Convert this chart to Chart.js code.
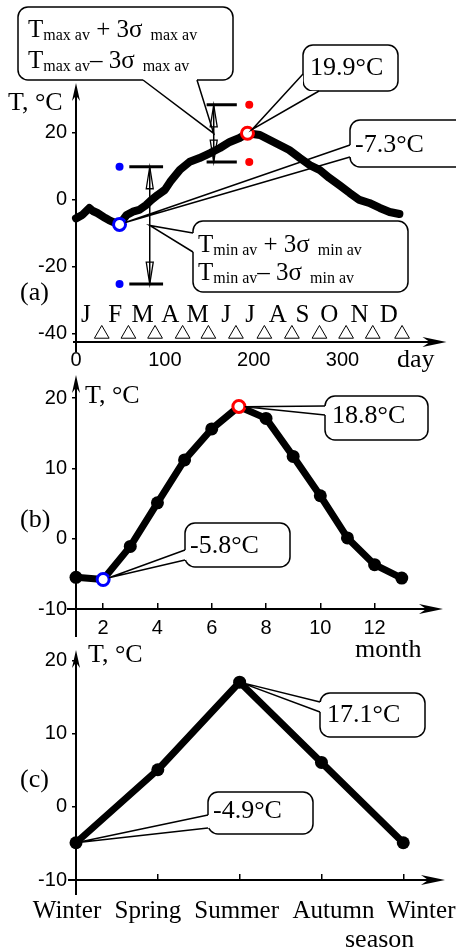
<!DOCTYPE html>
<html>
<head>
<meta charset="utf-8">
<title>Temperature by day, month and season</title>
<script src="https://cdn.jsdelivr.net/npm/chart.js@4.4.1/dist/chart.umd.min.js"></script>
<style>
  html, body { margin: 0; padding: 0; background: #fff; }
  #wrap { position: relative; width: 456px; height: 952px; overflow: hidden; }
  #wrap canvas { position: absolute; left: 0; }
</style>
</head>
<body>
<div id="wrap">
  <canvas id="chartA" width="456" height="372" style="top:0"></canvas>
  <canvas id="chartB" width="456" height="290" style="top:368px"></canvas>
  <canvas id="chartC" width="456" height="312" style="top:640px"></canvas>
</div>
<script>
// ---------- data ----------

// (a) daily temperature over one year
const days      = [0, 7, 15, 19, 24, 33, 37, 42, 49, 57, 64, 71, 79, 85, 92, 100, 106, 117, 128, 139,
                   151, 162, 173, 184, 193, 207, 218, 229, 240, 252, 263, 274, 285, 297, 308, 319, 330, 342, 353, 364];
const dailyTemp = [-5.5, -4.5, -2.4, -3.3, -3.9, -5.4, -6.0, -6.6, -7.3, -4.5, -3.5, -3.0, -1.5, 0.0, 1.5, 3.0, 5.4, 9.0, 11.4, 12.5,
                   14.0, 15.5, 17.3, 18.5, 19.9, 19.4, 17.9, 16.4, 14.9, 12.5, 10.4, 9.0, 6.6, 4.3, 2.1, 0.0, -0.9, -2.4, -3.6, -4.2];
const monthEndDays    = [29, 59, 89, 120, 149, 180, 212, 243, 274, 304, 334, 367];
const monthLetters    = ['J', 'F', 'M', 'A', 'M', 'J', 'J', 'A', 'S', 'O', 'N', 'D'];
const monthLetterDays = [11, 44, 75, 106, 137, 169, 196, 227, 255, 285, 319, 352];
const dayTicks   = [0, 100, 200, 300];
const tempTicksA = [-40, -20, 0, 20];
const markerLevel = -40;

// Tmin av +/- 3 sigma and Tmax av +/- 3 sigma  (upper, lower)
const minBand = [9.9, -25.1];
const maxBand = [28.4, 11.3];
const minBandDotDay = 49,  minBandBar = [60, 98],   minBandArrowDay = 83;
const maxBandDotDay = 195, maxBandBar = [147, 181], maxBandArrowDay = 155;

// (b) monthly averages
const months      = [1, 2, 3, 4, 5, 6, 7, 8, 9, 10, 11, 12, 13];
const monthlyTemp = [-5.5, -5.8, -1.1, 5.1, 11.2, 15.6, 18.8, 17.1, 11.7, 6.1, 0.1, -3.7, -5.6];
const monthTicks  = [2, 4, 6, 8, 10, 12];
const tempTicksB  = [-10, 0, 10, 20];

// (c) seasonal averages
const seasons     = ['Winter', 'Spring', 'Summer', 'Autumn', 'Winter'];
const seasonTemp  = [-4.9, 5.1, 17.1, 6.1, -4.9];
const tempTicksC  = [-10, 0, 10, 20];

// ---------- helpers ----------
const serif = '"Liberation Serif", "Times New Roman", serif';
const sans = '"Liberation Sans", Arial, sans-serif';
const tickFont = { family: sans, size: 20 };
const seasonLabelShift = [-9, -10, -3, 12, 18];   // season names sit a little spread out

function fixWidth(w) { return s => { s.width = w; s.paddingTop = 0; s.paddingBottom = 0; }; }
function fixHeight(h) { return s => { s.height = h; s.paddingLeft = 0; s.paddingRight = 0; }; }
function useTicks(list) { return s => { s.ticks = list.map(v => ({ value: v })); }; }
const yGrid = { display: true, drawOnChartArea: false, drawTicks: true, tickLength: 4, color: '#000', lineWidth: 1.5 };
const label = v => `${v.toFixed(1)}°C`;

function head(ctx, x, y, ang, len, half, open) {
  ctx.save();
  ctx.translate(x, y); ctx.rotate(ang);
  ctx.beginPath();
  if (open) {
    ctx.moveTo(-len, -half); ctx.lineTo(0, 0); ctx.lineTo(-len, half); ctx.closePath();
    ctx.lineWidth = 1.3; ctx.stroke();
  } else {
    ctx.moveTo(0, 0); ctx.lineTo(-len, -half); ctx.lineTo(-len * 0.7, 0); ctx.lineTo(-len, half); ctx.closePath();
    ctx.fill();
  }
  ctx.restore();
}

// axis lines with arrows (y up, x right)
function axes(ctx, a, below, left) {
  ctx.save();
  ctx.strokeStyle = '#000'; ctx.fillStyle = '#000'; ctx.lineWidth = 2;
  ctx.beginPath(); ctx.moveTo(a.left, a.bottom + below); ctx.lineTo(a.left, a.top + 6); ctx.stroke();
  head(ctx, a.left, a.top, -Math.PI / 2, 18, 4);
  ctx.beginPath(); ctx.moveTo(a.left - left, a.bottom); ctx.lineTo(a.right - 6, a.bottom); ctx.stroke();
  head(ctx, a.right, a.bottom, 0, 24, 5);
  ctx.restore();
}

function text(ctx, str, x, y, size, align) {
  ctx.font = size + 'px ' + serif;
  ctx.textAlign = align || 'left';
  ctx.textBaseline = 'alphabetic';
  ctx.fillStyle = '#000';
  ctx.fillText(str, x, y);
}

// text with subscripts: parts = [string, size, dy]
function runs(ctx, x, y, parts) {
  ctx.textAlign = 'left'; ctx.textBaseline = 'alphabetic'; ctx.fillStyle = '#000';
  for (const [s, size, dy] of parts) {
    ctx.font = size + 'px ' + serif;
    ctx.fillText(s, x, y + dy);
    x += ctx.measureText(s).width;
  }
}

// rounded box with a two-line pointer to tip; gap keeps the tip off a ring marker
function callout(ctx, box, tip, p1, p2, gap, corner) {
  const mx = (p1[0] + p2[0]) / 2 - tip.x, my = (p1[1] + p2[1]) / 2 - tip.y;
  const d = Math.hypot(mx, my) || 1;
  const tx = tip.x + mx / d * gap, ty = tip.y + my / d * gap;
  ctx.save();
  ctx.lineWidth = 1.5; ctx.strokeStyle = '#000'; ctx.fillStyle = '#fff';
  ctx.beginPath(); ctx.roundRect(box[0], box[1], box[2], box[3], 10); ctx.fill(); ctx.stroke();
  if (corner) {
    ctx.beginPath(); ctx.moveTo(p1[0], p1[1]); ctx.lineTo(tx, ty); ctx.lineTo(p2[0], p2[1]);
    ctx.lineTo(corner[0], corner[1]); ctx.closePath(); ctx.fill();
  } else {
    ctx.strokeStyle = '#fff'; ctx.lineWidth = 3.5;
    ctx.beginPath(); ctx.moveTo(p1[0], p1[1]); ctx.lineTo(p2[0], p2[1]); ctx.stroke();
  }
  ctx.strokeStyle = '#000'; ctx.lineWidth = 1.5;
  ctx.beginPath(); ctx.moveTo(p1[0], p1[1]); ctx.lineTo(tx, ty); ctx.lineTo(p2[0], p2[1]); ctx.stroke();
  ctx.restore();
}

function pt(chart, xv, yv) {
  return { x: chart.scales.x.getPixelForValue(xv), y: chart.scales.y.getPixelForValue(yv) };
}

function hbar(x0, x1, yv) {
  return { data: [{ x: x0, y: yv }, { x: x1, y: yv }], showLine: true, borderColor: '#000', borderWidth: 3, pointRadius: 0, order: 1 };
}

// ---------- (a) daily ----------
const iMinA = dailyTemp.indexOf(Math.min(...dailyTemp));
const iMaxA = dailyTemp.indexOf(Math.max(...dailyTemp));

const decorA = {
  id: 'decorA',
  beforeDatasetsDraw(chart) {
    const { ctx, chartArea } = chart;
    axes(ctx, chartArea, 10, 3);
    text(ctx, 'T, °C', 8, 110, 26);
    text(ctx, '(a)', 20, 300, 26);
    text(ctx, 'day', 397, 367, 26);
    monthLetters.forEach((m, i) => {
      const p = pt(chart, monthLetterDays[i], markerLevel);
      text(ctx, m, p.x, p.y - 12, 25, 'center');
    });
  },
  afterDatasetsDraw(chart) {
    const ctx = chart.ctx;
    ctx.save();
    ctx.strokeStyle = '#000'; ctx.fillStyle = '#000'; ctx.lineWidth = 1.5;
    [[minBandArrowDay, minBand], [maxBandArrowDay, maxBand]].forEach(([d, b]) => {
      const top = pt(chart, d, b[0]), bot = pt(chart, d, b[1]);
      ctx.beginPath(); ctx.moveTo(top.x, top.y); ctx.lineTo(bot.x, bot.y); ctx.stroke();
      head(ctx, top.x, top.y, -Math.PI / 2, 22, 3.5, true);
      head(ctx, bot.x, bot.y, Math.PI / 2, 22, 3.5, true);
    });
    ctx.restore();

    const tMax = pt(chart, maxBandArrowDay, (maxBand[0] + maxBand[1]) / 2);
    callout(ctx, [18, 7, 215, 73], tMax, [143, 80], [197, 80], 0);
    runs(ctx, 28, 37, [['T', 25, 0], ['max av', 16, 3], [' + 3σ', 25, 0], ['  max av', 16, 3]]);
    runs(ctx, 28, 68, [['T', 25, 0], ['max av', 16, 3], ['– 3σ', 25, 0], ['  max av', 16, 3]]);

    const tMin = pt(chart, minBandArrowDay, (minBand[0] + minBand[1]) / 2);
    callout(ctx, [193, 221, 215, 71], tMin, [193, 233], [193, 252], 0);
    runs(ctx, 198, 252, [['T', 25, 0], ['min av', 16, 3], [' + 3σ', 25, 0], ['  min av', 16, 3]]);
    runs(ctx, 198, 280, [['T', 25, 0], ['min av', 16, 3], ['– 3σ', 25, 0], ['  min av', 16, 3]]);

    callout(ctx, [303, 45, 95, 46], pt(chart, days[iMaxA], dailyTemp[iMaxA]), [303, 74], [319, 91], 6, [303, 91]);
    text(ctx, label(dailyTemp[iMaxA]), 310, 75, 26);

    callout(ctx, [350, 120, 130, 47], pt(chart, days[iMinA], dailyTemp[iMinA]), [350, 145], [350, 157], 6);
    text(ctx, label(dailyTemp[iMinA]), 355, 152, 26);
  }
};

new Chart(document.getElementById('chartA'), {
  type: 'scatter',
  data: {
    datasets: [
      { // extreme days (ring markers)
        data: [{ x: days[iMinA], y: dailyTemp[iMinA] }, { x: days[iMaxA], y: dailyTemp[iMaxA] }],
        pointRadius: 6, pointBorderWidth: 3, pointBackgroundColor: '#fff',
        pointBorderColor: ['#0000ff', '#ff0000'], order: 0
      },
      { data: [{ x: minBandDotDay, y: minBand[0] }, { x: minBandDotDay, y: minBand[1] }],
        pointRadius: 4, pointBorderWidth: 0, pointBackgroundColor: '#0000ff', order: 1 },
      { data: [{ x: maxBandDotDay, y: maxBand[0] }, { x: maxBandDotDay, y: maxBand[1] }],
        pointRadius: 4, pointBorderWidth: 0, pointBackgroundColor: '#ff0000', order: 1 },
      hbar(minBandBar[0], minBandBar[1], minBand[0]),
      hbar(minBandBar[0], minBandBar[1], minBand[1]),
      hbar(maxBandBar[0], maxBandBar[1], maxBand[0]),
      hbar(maxBandBar[0], maxBandBar[1], maxBand[1]),
      { // month ends
        data: monthEndDays.map(d => ({ x: d, y: markerLevel })),
        pointStyle: 'triangle', pointRadius: 8.5, pointBorderWidth: 1,
        pointBackgroundColor: '#fff', pointBorderColor: '#000', order: 2
      },
      { // daily curve
        data: days.map((d, i) => ({ x: d, y: dailyTemp[i] })),
        showLine: true, borderColor: '#000', borderWidth: 8, pointRadius: 0,
        borderJoinStyle: 'round', borderCapStyle: 'round', order: 3, clip: false
      }
    ]
  },
  options: {
    responsive: false,
    animation: false,
    events: [],
    layout: { padding: { left: 0, top: 83, right: 9, bottom: 0 } },
    plugins: { legend: { display: false }, tooltip: { enabled: false } },
    scales: {
      x: {
        type: 'linear', min: 0, max: 417,
        afterBuildTicks: useTicks(dayTicks), afterFit: fixHeight(30),
        grid: { display: false, drawTicks: false }, border: { display: false },
        ticks: { font: tickFont, color: '#000', padding: 6, maxRotation: 0 }
      },
      y: {
        min: -42.4, max: 34.9,
        afterBuildTicks: useTicks(tempTicksA), afterFit: fixWidth(76),
        grid: yGrid, border: { display: false },
        ticks: { font: tickFont, color: '#000', padding: 5 }
      }
    }
  },
  plugins: [decorA]
});

// ---------- (b) monthly ----------
const iMinB = monthlyTemp.indexOf(Math.min(...monthlyTemp));
const iMaxB = monthlyTemp.indexOf(Math.max(...monthlyTemp));

const decorB = {
  id: 'decorB',
  beforeDatasetsDraw(chart) {
    const { ctx, chartArea } = chart;
    axes(ctx, chartArea, 28, 9);
    text(ctx, 'T, °C', 85, 35, 26);
    text(ctx, '(b)', 20, 159, 26);
    text(ctx, 'month', 355, 289, 26);
  },
  afterDatasetsDraw(chart) {
    const ctx = chart.ctx;
    callout(ctx, [325, 28, 103, 44], pt(chart, months[iMaxB], monthlyTemp[iMaxB]), [325, 38], [325, 47], 6);
    text(ctx, label(monthlyTemp[iMaxB]), 332, 55, 26);
    callout(ctx, [185, 155, 105, 44], pt(chart, months[iMinB], monthlyTemp[iMinB]), [185, 182], [185, 192], 6);
    text(ctx, label(monthlyTemp[iMinB]), 190, 185, 26);
  }
};

const ringB = i => i === iMinB || i === iMaxB;
new Chart(document.getElementById('chartB'), {
  type: 'scatter',
  data: {
    datasets: [{
      data: months.map((m, i) => ({ x: m, y: monthlyTemp[i] })),
      showLine: true, borderColor: '#000', borderWidth: 7, borderJoinStyle: 'round', clip: false,
      pointRadius: monthlyTemp.map((v, i) => ringB(i) ? 6 : 6.5),
      pointBorderWidth: monthlyTemp.map((v, i) => ringB(i) ? 3 : 0),
      pointBackgroundColor: monthlyTemp.map((v, i) => ringB(i) ? '#fff' : '#000'),
      pointBorderColor: monthlyTemp.map((v, i) => i === iMinB ? '#0000ff' : i === iMaxB ? '#ff0000' : '#000')
    }]
  },
  options: {
    responsive: false,
    animation: false,
    events: [],
    layout: { padding: { left: 0, top: 7, right: 13, bottom: 0 } },
    plugins: { legend: { display: false }, tooltip: { enabled: false } },
    scales: {
      x: {
        type: 'linear', min: 1, max: 14.52,
        afterBuildTicks: useTicks(monthTicks), afterFit: fixHeight(49),
        grid: { display: true, drawOnChartArea: false, drawTicks: true, tickLength: -6, color: '#000', lineWidth: 1.5 },
        border: { display: false },
        ticks: { font: tickFont, color: '#000', padding: 13, maxRotation: 0 }
      },
      y: {
        min: -10, max: 23.27,
        afterBuildTicks: useTicks(tempTicksB), afterFit: fixWidth(76),
        grid: yGrid, border: { display: false },
        ticks: { font: tickFont, color: '#000', padding: 5 }
      }
    }
  },
  plugins: [decorB]
});

// ---------- (c) seasonal ----------
const iMinC = seasonTemp.indexOf(Math.min(...seasonTemp));
const iMaxC = seasonTemp.indexOf(Math.max(...seasonTemp));

const decorC = {
  id: 'decorC',
  beforeDatasetsDraw(chart) {
    const { ctx, chartArea } = chart;
    axes(ctx, chartArea, 15, 8);
    text(ctx, 'T, °C', 88, 22, 26);
    text(ctx, '(c)', 20, 147, 26);
    text(ctx, 'season', 345, 307, 26);
    seasons.forEach((s, i) => {
      text(ctx, s, chart.scales.x.getPixelForValue(i) + seasonLabelShift[i], chartArea.bottom + 38, 25, 'center');
    });
  },
  afterDatasetsDraw(chart) {
    const ctx = chart.ctx;
    callout(ctx, [320, 53, 105, 44], pt(chart, iMaxC, seasonTemp[iMaxC]), [320, 62], [320, 72], 0);
    text(ctx, label(seasonTemp[iMaxC]), 327, 82, 26);
    callout(ctx, [208, 152, 105, 42], pt(chart, iMinC, seasonTemp[iMinC]), [208, 175], [208, 188], 0);
    text(ctx, label(seasonTemp[iMinC]), 213, 178, 26);
  }
};

new Chart(document.getElementById('chartC'), {
  type: 'scatter',
  data: {
    datasets: [{
      data: seasonTemp.map((v, i) => ({ x: i, y: v })),
      showLine: true, borderColor: '#000', borderWidth: 7, borderJoinStyle: 'round', clip: false,
      pointRadius: 6.5, pointBorderWidth: 0, pointBackgroundColor: '#000'
    }]
  },
  options: {
    responsive: false,
    animation: false,
    events: [],
    layout: { padding: { left: 0, top: 10, right: 11, bottom: 0 } },
    plugins: { legend: { display: false }, tooltip: { enabled: false } },
    scales: {
      x: {
        type: 'linear', min: 0, max: 4.51,
        afterBuildTicks: useTicks(seasons.map((s, i) => i)), afterFit: fixHeight(72),
        grid: { display: true, drawOnChartArea: false, drawTicks: true, tickLength: -6, color: '#000', lineWidth: 1.5 },
        border: { display: false },
        ticks: { display: false }
      },
      y: {
        min: -10, max: 21.5,
        afterBuildTicks: useTicks(tempTicksC), afterFit: fixWidth(76),
        grid: yGrid, border: { display: false },
        ticks: { font: tickFont, color: '#000', padding: 5 }
      }
    }
  },
  plugins: [decorC]
});
</script>
</body>
</html>
